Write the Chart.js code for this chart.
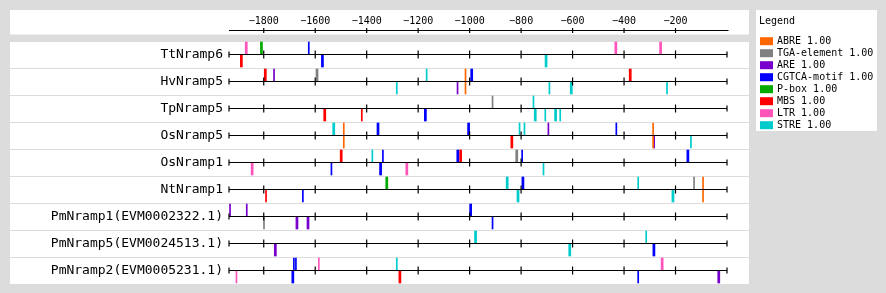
<!DOCTYPE html>
<html>
<head>
<meta charset="utf-8">
<script src="https://cdn.jsdelivr.net/npm/chart.js@4.4.0/dist/chart.umd.min.js"></script>
<style>
  html, body { margin: 0; padding: 0; background: #dcdcdc; }
  canvas { display: block; }
</style>
</head>
<body>
<canvas id="promoter" width="886" height="293"></canvas>
<script>
var genes = [
    'TtNramp6',
    'HvNramp5',
    'TpNramp5',
    'OsNramp5',
    'OsNramp1',
    'NtNramp1',
    'PmNramp1(EVM0002322.1)',
    'PmNramp5(EVM0024513.1)',
    'PmNramp2(EVM0005231.1)'
];
var elementTypes = ['ABRE', 'TGA-element', 'ARE', 'CGTCA-motif', 'P-box', 'MBS', 'LTR', 'STRE'];
var elementScores = [1.00, 1.00, 1.00, 1.00, 1.00, 1.00, 1.00, 1.00];
var elementColors = ['#ff6600', '#808080', '#7700cc', '#0000ff', '#00aa00', '#ff0000', '#ff55bb', '#00cccc'];
var axisTicks = [-1800, -1600, -1400, -1200, -1000, -800, -600, -400, -200];
var seqStart = -1935;
var seqEnd = 0;

// [gene index, position, strand (1 = +, -1 = -), length in bp]
var abreSites = [
    [1, -1016, 1, 4], [1, -1016, -1, 4],
    [3, -1489, 1, 4], [3, -1489, -1, 4],
    [3, -287, 1, 4], [3, -287, -1, 4],
    [5, -93, 1, 4], [5, -93, -1, 4]
];
var tgaSites = [
    [1, -1593, 1, 8], [2, -911, 1, 4], [4, -817, 1, 8], [5, -128, 1, 4], [6, -1799, -1, 4]
];
var areSites = [
    [1, -1760, 1, 4], [1, -1047, -1, 4], [3, -694, 1, 4], [3, -283, -1, 4],
    [6, -1931, 1, 4], [6, -1866, 1, 4], [6, -1671, -1, 8], [6, -1628, -1, 8],
    [7, -1755, -1, 8], [8, -32, -1, 8]
];
var cgtcaSites = [
    [0, -1625, 1, 4], [0, -1572, -1, 8],
    [1, -992, 1, 8],
    [2, -1172, -1, 8],
    [3, -1356, 1, 8], [3, -1004, 1, 8], [3, -430, 1, 4],
    [4, -1537, -1, 4], [4, -1337, 1, 4], [4, -1346, -1, 8], [4, -1046, 1, 8], [4, -796, 1, 4], [4, -152, 1, 8],
    [5, -793, 1, 8], [5, -1648, -1, 4],
    [6, -996, 1, 8], [6, -911, -1, 4],
    [7, -284, -1, 8],
    [8, -1683, 1, 4], [8, -1675, 1, 4], [8, -1687, -1, 8], [8, -345, -1, 4]
];
var pboxSites = [
    [0, -1809, 1, 8], [5, -1322, 1, 8]
];
var mbsSites = [
    [0, -1887, -1, 8], [1, -1794, 1, 8], [1, -376, 1, 8],
    [2, -1563, -1, 8], [2, -1419, -1, 4], [3, -836, -1, 8],
    [4, -1499, 1, 8], [4, -1035, 1, 8], [5, -1791, -1, 4], [8, -1271, -1, 8]
];
var ltrSites = [
    [0, -1868, 1, 8], [0, -432, 1, 8], [0, -258, 1, 8],
    [4, -1845, -1, 8], [4, -1244, -1, 8],
    [8, -1906, -1, 4], [8, -1586, 1, 4], [8, -252, 1, 8]
];
var streSites = [
    [0, -703, -1, 8],
    [1, -1167, 1, 4], [1, -1283, -1, 4], [1, -690, -1, 4], [1, -605, -1, 8], [1, -233, -1, 4],
    [2, -752, 1, 4], [2, -745, -1, 8], [2, -706, -1, 4], [2, -666, -1, 8], [2, -648, -1, 4],
    [3, -1528, 1, 8], [3, -806, 1, 4], [3, -787, 1, 4], [3, -140, -1, 4],
    [4, -1378, 1, 4], [4, -713, -1, 4],
    [5, -854, 1, 8], [5, -345, 1, 4], [5, -812, -1, 8], [5, -210, -1, 8],
    [7, -977, 1, 8], [7, -314, 1, 4], [7, -611, -1, 8],
    [8, -1283, 1, 4]
];
var allSites = [abreSites, tgaSites, areSites, cgtcaSites, pboxSites, mbsSites, ltrSites, streSites];

Chart.defaults.font.family = 'DejaVu Sans Mono';
Chart.defaults.color = '#000000';

// marks sit just above (+) or just below (-) each gene line
var datasets = elementTypes.map(function (name, t) {
    return {
        label: name,
        data: allSites[t].map(function (s) {
            return {
                y: s[0] + (s[2] > 0 ? -0.2407 : 0.2407),
                x: [s[1] - s[3] / 2, s[1] + s[3] / 2]
            };
        }),
        backgroundColor: elementColors[t],
        borderWidth: 0,
        grouped: false,
        clip: false,
        barPercentage: 1,
        categoryPercentage: 1,
        maxBarThickness: 12
    };
});

var tracks = {
    id: 'tracks',
    beforeDraw: function (chart) {
        var ctx = chart.ctx;
        var y = chart.scales.y;
        ctx.save();
        ctx.fillStyle = '#ffffff';
        ctx.fillRect(10, 10, 739, 24.5);
        ctx.fillRect(10, 42, 739, 242);
        ctx.fillRect(756, 10, 121, 121);
        ctx.fillStyle = '#dcdcdc';
        for (var i = 0; i < genes.length - 1; i++) {
            ctx.fillRect(10, Math.floor(y.getPixelForValue(i)) + 14, 739, 1);
        }
        ctx.restore();
    },
    afterDatasetsDraw: function (chart) {
        var ctx = chart.ctx;
        var x = chart.scales.x;
        var y = chart.scales.y;
        var x0 = x.getPixelForValue(seqStart);
        var x1 = x.getPixelForValue(seqEnd);
        ctx.save();
        ctx.strokeStyle = '#000000';
        ctx.lineWidth = 1.2;
        // header axis
        var hy = chart.chartArea.top - 0.5;
        ctx.beginPath();
        ctx.moveTo(x0, hy);
        ctx.lineTo(x1 + 1.5, hy);
        axisTicks.forEach(function (v) {
            var px = x.getPixelForValue(v);
            ctx.moveTo(px, hy - 2.5);
            ctx.lineTo(px, hy + 2.5);
        });
        ctx.stroke();
        // gene lines
        genes.forEach(function (g, i) {
            var py = y.getPixelForValue(i);
            ctx.beginPath();
            ctx.moveTo(x0, py);
            ctx.lineTo(x1, py);
            ctx.moveTo(x0, py - 3);
            ctx.lineTo(x0, py + 3);
            ctx.moveTo(x1, py - 3);
            ctx.lineTo(x1, py + 3);
            axisTicks.forEach(function (v) {
                var px = x.getPixelForValue(v);
                ctx.moveTo(px, py - 4);
                ctx.lineTo(px, py + 4);
            });
            ctx.stroke();
        });
        ctx.restore();
    },
    afterDraw: function (chart) {
        var ctx = chart.ctx;
        ctx.save();
        ctx.font = '10px "DejaVu Sans Mono"';
        ctx.fillStyle = '#000000';
        ctx.textBaseline = 'middle';
        ctx.fillText('Legend', 759, 21);
        elementTypes.forEach(function (name, t) {
            var ly = 40.7 + t * 12;
            ctx.fillStyle = elementColors[t];
            ctx.fillRect(760, ly - 3.5, 13, 8);
            ctx.fillStyle = '#000000';
            ctx.fillText(name + ' ' + elementScores[t].toFixed(2), 777, ly + 0.5);
        });
        ctx.restore();
    }
};

new Chart(document.getElementById('promoter'), {
    type: 'bar',
    data: { datasets: datasets },
    options: {
        indexAxis: 'y',
        responsive: false,
        animation: false,
        layout: { padding: { left: 10, right: 159, top: 10, bottom: 10 } },
        plugins: {
            legend: { display: false },
            tooltip: { enabled: false }
        },
        scales: {
            x: {
                type: 'linear',
                position: 'top',
                min: seqStart,
                max: seqEnd,
                grid: { display: false, drawTicks: false },
                border: { display: false },
                afterBuildTicks: function (scale) {
                    scale.ticks = axisTicks.map(function (v) { return { value: v }; });
                },
                afterFit: function (scale) { scale.height = 21; },
                ticks: {
                    font: { size: 10 },
                    padding: 4,
                    maxRotation: 0,
                    autoSkip: false,
                    callback: function (v) { return '\u2212' + Math.abs(v); }
                }
            },
            y: {
                type: 'linear',
                reverse: true,
                offset: false,
                min: -0.8704,
                max: 8.463,
                grid: { display: false, drawTicks: false, offset: false },
                border: { display: false },
                afterBuildTicks: function (scale) {
                    scale.ticks = genes.map(function (g, i) { return { value: i }; });
                },
                afterFit: function (scale) {
                    scale.width = 219;
                    scale.paddingTop = 0;
                    scale.paddingBottom = 0;
                },
                ticks: {
                    font: { size: 13 },
                    padding: 6,
                    autoSkip: false,
                    callback: function (v) { return genes[v]; }
                }
            }
        }
    },
    plugins: [tracks]
});
</script>
</body>
</html>
